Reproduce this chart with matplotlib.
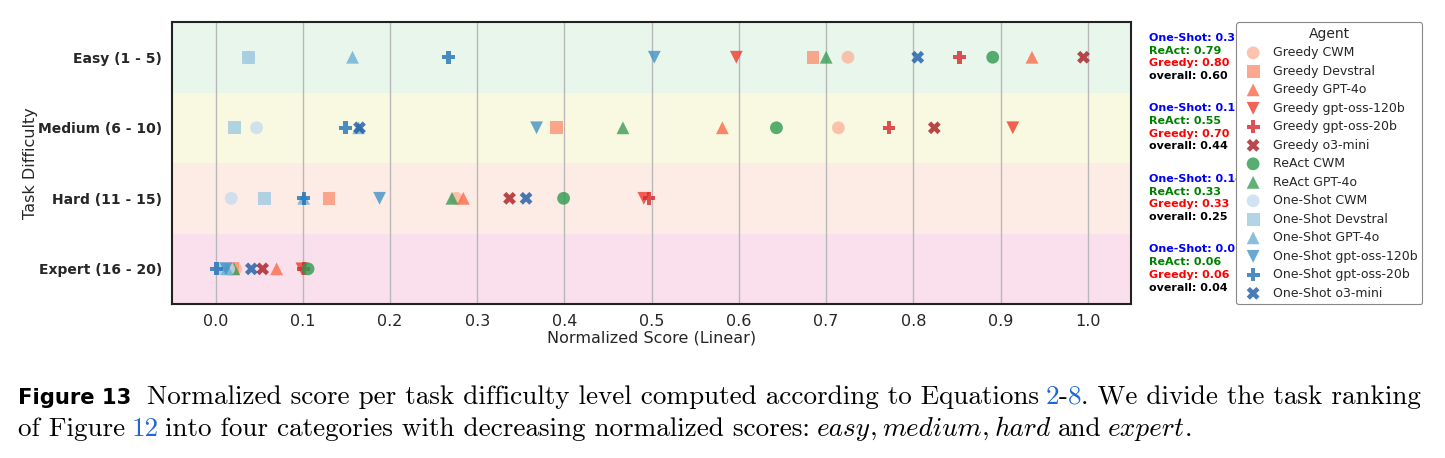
import matplotlib
matplotlib.use("Agg")
import matplotlib.pyplot as plt
import matplotlib.transforms as mtransforms

# Agents (legend order) and normalized score per difficulty level
agents = ["Greedy CWM", "Greedy Devstral", "Greedy GPT-4o", "Greedy gpt-oss-120b",
          "Greedy gpt-oss-20b", "Greedy o3-mini", "ReAct CWM", "ReAct GPT-4o",
          "One-Shot CWM", "One-Shot Devstral", "One-Shot GPT-4o", "One-Shot gpt-oss-120b",
          "One-Shot gpt-oss-20b", "One-Shot o3-mini"]
levels = ["Easy (1 - 5)", "Medium (6 - 10)", "Hard (11 - 15)", "Expert (16 - 20)"]

easy = [0.725, 0.685, 0.936, 0.597, 0.853, 0.995, 0.891, 0.700,
        0.038, 0.038, 0.157, 0.503, 0.267, 0.805]
medium = [0.714, 0.391, 0.581, 0.914, 0.772, 0.824, 0.643, 0.467,
          0.047, 0.022, 0.164, 0.368, 0.149, 0.165]
hard = [0.276, 0.130, 0.284, 0.491, 0.497, 0.337, 0.399, 0.271,
        0.018, 0.056, 0.101, 0.188, 0.101, 0.356]
expert = [0.023, 0.020, 0.070, 0.099, 0.101, 0.054, 0.106, 0.021,
          0.015, 0.005, 0.013, 0.012, 0.001, 0.041]

oneshot_avg = ["0.31", "0.15", "0.14", "0.01"]
react_avg = ["0.79", "0.55", "0.33", "0.06"]
greedy_avg = ["0.80", "0.70", "0.33", "0.06"]
overall_avg = ["0.60", "0.44", "0.25", "0.04"]

markers = ["o", "s", "^", "v", "P", "X"] + ["o", "^"] + ["o", "s", "^", "v", "P", "X"]
colors = ["#fcb59b", "#fc9272", "#fb6a4a", "#ef3b2c", "#d7262b", "#a91b22",
          "#2e9a4f", "#3a9d55",
          "#c6dbef", "#9ecae1", "#6baed6", "#4292c6", "#2171b5", "#1a5aa6"]
band_colors = ["#e8f6ec", "#f9f9e2", "#fdebe5", "#f9e0ec"]
text_col = "#262626"

fig = plt.figure(figsize=(14.45, 4.58), dpi=100)
ax = fig.add_axes([0.119, 0.336, 0.664, 0.616])

for i, c in enumerate(band_colors):
    ax.axhspan(i - 0.5, i + 0.5, color=c, zorder=0, lw=0)

rows = [easy, medium, hard, expert]
for j, name in enumerate(agents):
    xs = [r[j] for r in rows]
    ys = list(range(len(rows)))
    ax.scatter(xs, ys, marker=markers[j], color=colors[j], s=85, alpha=0.8,
               edgecolors="none", label=name, zorder=3)

ax.set_xlim(-0.05, 1.05)
ax.set_ylim(3.5, -0.5)
ax.set_xticks([i / 10 for i in range(11)])
ax.set_xticklabels([f"{i / 10:.1f}" for i in range(11)], fontsize=11.5, color=text_col)
ax.set_yticks(range(4))
ax.set_yticklabels(levels, fontsize=10, fontweight="bold", color=text_col)
ax.tick_params(length=0, pad=7)
ax.set_axisbelow(True)
ax.grid(axis="x", color="#b8b8b8", lw=1)
ax.grid(axis="y", visible=False)
for sp in ax.spines.values():
    sp.set_linewidth(1.5)
    sp.set_color("#222222")
ax.set_xlabel("Normalized Score (Linear)", fontsize=11.5, labelpad=1, color=text_col)
ax.set_ylabel("Task Difficulty", fontsize=11.5, color=text_col, labelpad=0)

# summary text to the right of each row
trans = mtransforms.blended_transform_factory(ax.transAxes, ax.transData)
offs = [-0.275, -0.095, 0.085, 0.265]
for i in range(4):
    lines = [("One-Shot: " + oneshot_avg[i], "blue"), ("ReAct: " + react_avg[i], "green"),
             ("Greedy: " + greedy_avg[i], "red"), ("overall: " + overall_avg[i], "black")]
    for (txt, col), dy in zip(lines, offs):
        ax.text(1.018, i + dy, txt, transform=trans, color=col, fontsize=8,
                fontweight="bold", va="center", ha="left", clip_on=False)

leg = fig.legend(loc="upper left", bbox_to_anchor=(1230 / 1445, 1 - 16 / 458),
                 title="Agent", fontsize=9, title_fontsize=10, framealpha=1,
                 edgecolor="#888888", markerscale=1.0, handletextpad=0.6,
                 labelspacing=0.44, borderpad=0.35)
leg.get_frame().set_linewidth(0.8)
for t in leg.get_texts():
    t.set_color(text_col)
leg.get_title().set_color(text_col)
for h in leg.legend_handles:
    h.set_alpha(0.8)

# caption
blue = "#1f66d6"
rm = dict(family="cmr10")
it = dict(family="cmmi10")
bf = dict(family="DejaVu Sans", fontweight="bold", scale=0.78)
line1 = [("Figure 13", bf, "k", 12), ("Normalized score per task difficulty level computed according to Equations", rm, "k", 5),
         ("2", rm, blue, 0), ("-", rm, "k", 0), ("8", rm, blue, 0), (". We divide the task ranking", rm, "k", 0)]
line2 = [("of Figure", rm, "k", 5), ("12", rm, blue, 5), ("into four categories with decreasing normalized scores:", rm, "k", 5),
         ("easy", it, "k", 0), (",", rm, "k", 4), ("medium", it, "k", 0), (",", rm, "k", 4),
         ("hard", it, "k", 5), ("and", rm, "k", 5), ("expert", it, "k", 0), (".", rm, "k", 0)]

renderer = fig.canvas.get_renderer()


def place(pieces, y, size, x0=18, draw=True):
    x = x0
    for txt, props, col, gap in pieces:
        props = dict(props)
        sc = props.pop("scale", 1.0)
        t = fig.text(x / 1445, y, txt, color=col, fontsize=size * sc, va="baseline", ha="left", **props)
        w = t.get_window_extent(renderer).width
        if not draw:
            t.remove()
        x += w + gap * size / 15
    return x - x0


w = place(line1, 0.0, 15, draw=False)
size = 15 * 1410 / w
place(line1, 1 - 404 / 458, size)
place(line2, 1 - 436 / 458, size)

fig.savefig("out.png", dpi=100)
